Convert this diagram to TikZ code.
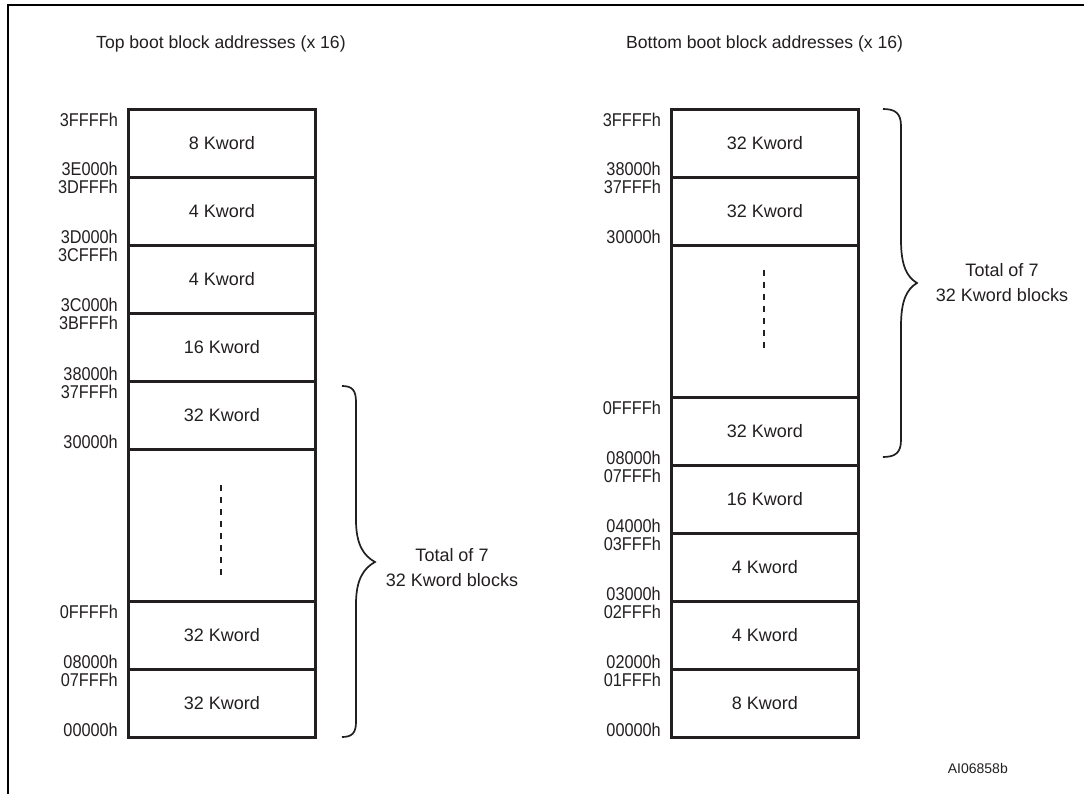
\documentclass[tikz,border=0pt]{standalone}
\usepackage{fontspec}
\setmainfont{Liberation Sans}
\newfontfamily\addrfont[FakeStretch=0.88]{Liberation Sans}
\definecolor{ink}{HTML}{231F20}
\begin{document}
\begin{tikzpicture}[x=1pt,y=-1pt,
  txt/.style={font=\fontsize{18}{25}\selectfont, text=ink, inner sep=0pt},
  blk/.style={draw=ink, line width=2.6pt, minimum width=187pt, minimum height=68pt, inner sep=0pt, anchor=north west, txt},
  big/.style={blk, minimum height=152pt},
  addr/.style={txt, font=\addrfont\fontsize{18.5}{20}\selectfont, anchor=base east},
  brace/.style={draw=ink, line width=1.7pt},
  dots/.style={draw=ink, line width=2.2pt, dash pattern=on 6pt off 6pt}]
\useasboundingbox (0,0) rectangle (1084,794);
\fill[white] (0,0) rectangle (1084,794);
% frame
\draw[line width=2.4pt, black] (8,794) -- (8,5) -- (1084,5);
% titles
\node[txt, anchor=base west, font=\fontsize{17.6}{20}\selectfont] (tl) at (96,49) {Top boot block addresses (x 16)};
\node[txt, anchor=base west, font=\fontsize{17.6}{20}\selectfont] (tr) at (626,49) {Bottom boot block addresses (x 16)};
% left column
\node[blk] (L1) at (127,108) {8 Kword};
\node[blk] (L2) at (127,176) {4 Kword};
\node[blk] (L3) at (127,244) {4 Kword};
\node[blk] (L4) at (127,312) {16 Kword};
\node[blk] (L5) at (127,380) {32 Kword};
\node[big] (LD) at (127,448) {};
\node[blk] (L7) at (127,600) {32 Kword};
\node[blk] (L8) at (127,668) {32 Kword};
\draw[dots] (221,485) -- (221,577);
% left addresses
\node[addr] (la1) at (118,127) {3FFFFh};
\node[addr] (la2) at (118,176) {3E000h};
\node[addr] (la3) at (118,194) {3DFFFh};
\node[addr] (la4) at (118,244) {3D000h};
\node[addr] (la5) at (118,262) {3CFFFh};
\node[addr] (la6) at (118,312) {3C000h};
\node[addr] (la7) at (118,330) {3BFFFh};
\node[addr] (la8) at (118,380) {38000h};
\node[addr] (la9) at (118,398) {37FFFh};
\node[addr] (la10) at (118,448) {30000h};
\node[addr] (la11) at (118,618) {0FFFFh};
\node[addr] (la12) at (118,668) {08000h};
\node[addr] (la13) at (118,686) {07FFFh};
\node[addr] (la14) at (118,736) {00000h};
% left brace
\draw[brace] (342,386) .. controls (352,386) and (356,390) .. (356,402)
  -- (356,520) .. controls (356,545) and (364,556) .. (375,562)
  .. controls (364,568) and (356,579) .. (356,604)
  -- (356,722) .. controls (356,733) and (352,737) .. (342,737);
\node[txt, align=center] (lt) at (452,568) {Total of 7\\32 Kword blocks};
% right column
\node[blk] (R1) at (670,108) {32 Kword};
\node[blk] (R2) at (670,176) {32 Kword};
\node[big] (RD) at (670,244) {};
\node[blk] (R4) at (670,396) {32 Kword};
\node[blk] (R5) at (670,464) {16 Kword};
\node[blk] (R6) at (670,532) {4 Kword};
\node[blk] (R7) at (670,600) {4 Kword};
\node[blk] (R8) at (670,668) {8 Kword};
\draw[dots] (764,270) -- (764,350);
% right addresses
\node[addr] (ra1) at (661,127) {3FFFFh};
\node[addr] (ra2) at (661,176) {38000h};
\node[addr] (ra3) at (661,194) {37FFFh};
\node[addr] (ra4) at (661,244) {30000h};
\node[addr] (ra5) at (661,414) {0FFFFh};
\node[addr] (ra6) at (661,464) {08000h};
\node[addr] (ra7) at (661,482) {07FFFh};
\node[addr] (ra8) at (661,532) {04000h};
\node[addr] (ra9) at (661,550) {03FFFh};
\node[addr] (ra10) at (661,600) {03000h};
\node[addr] (ra11) at (661,618) {02FFFh};
\node[addr] (ra12) at (661,668) {02000h};
\node[addr] (ra13) at (661,686) {01FFFh};
\node[addr] (ra14) at (661,736) {00000h};
% right brace
\draw[brace] (883,109) .. controls (895,109) and (901,113) .. (901,126)
  -- (901,240) .. controls (901,266) and (907,277) .. (917,283)
  .. controls (907,289) and (901,300) .. (901,326)
  -- (901,440) .. controls (901,453) and (895,457) .. (883,457);
\node[txt, align=center] (rt) at (1002,283) {Total of 7\\32 Kword blocks};
% figure id
\node[txt, font=\fontsize{14}{16}\selectfont, anchor=base east] (id) at (1008,773) {AI06858b};
\end{tikzpicture}
\end{document}
